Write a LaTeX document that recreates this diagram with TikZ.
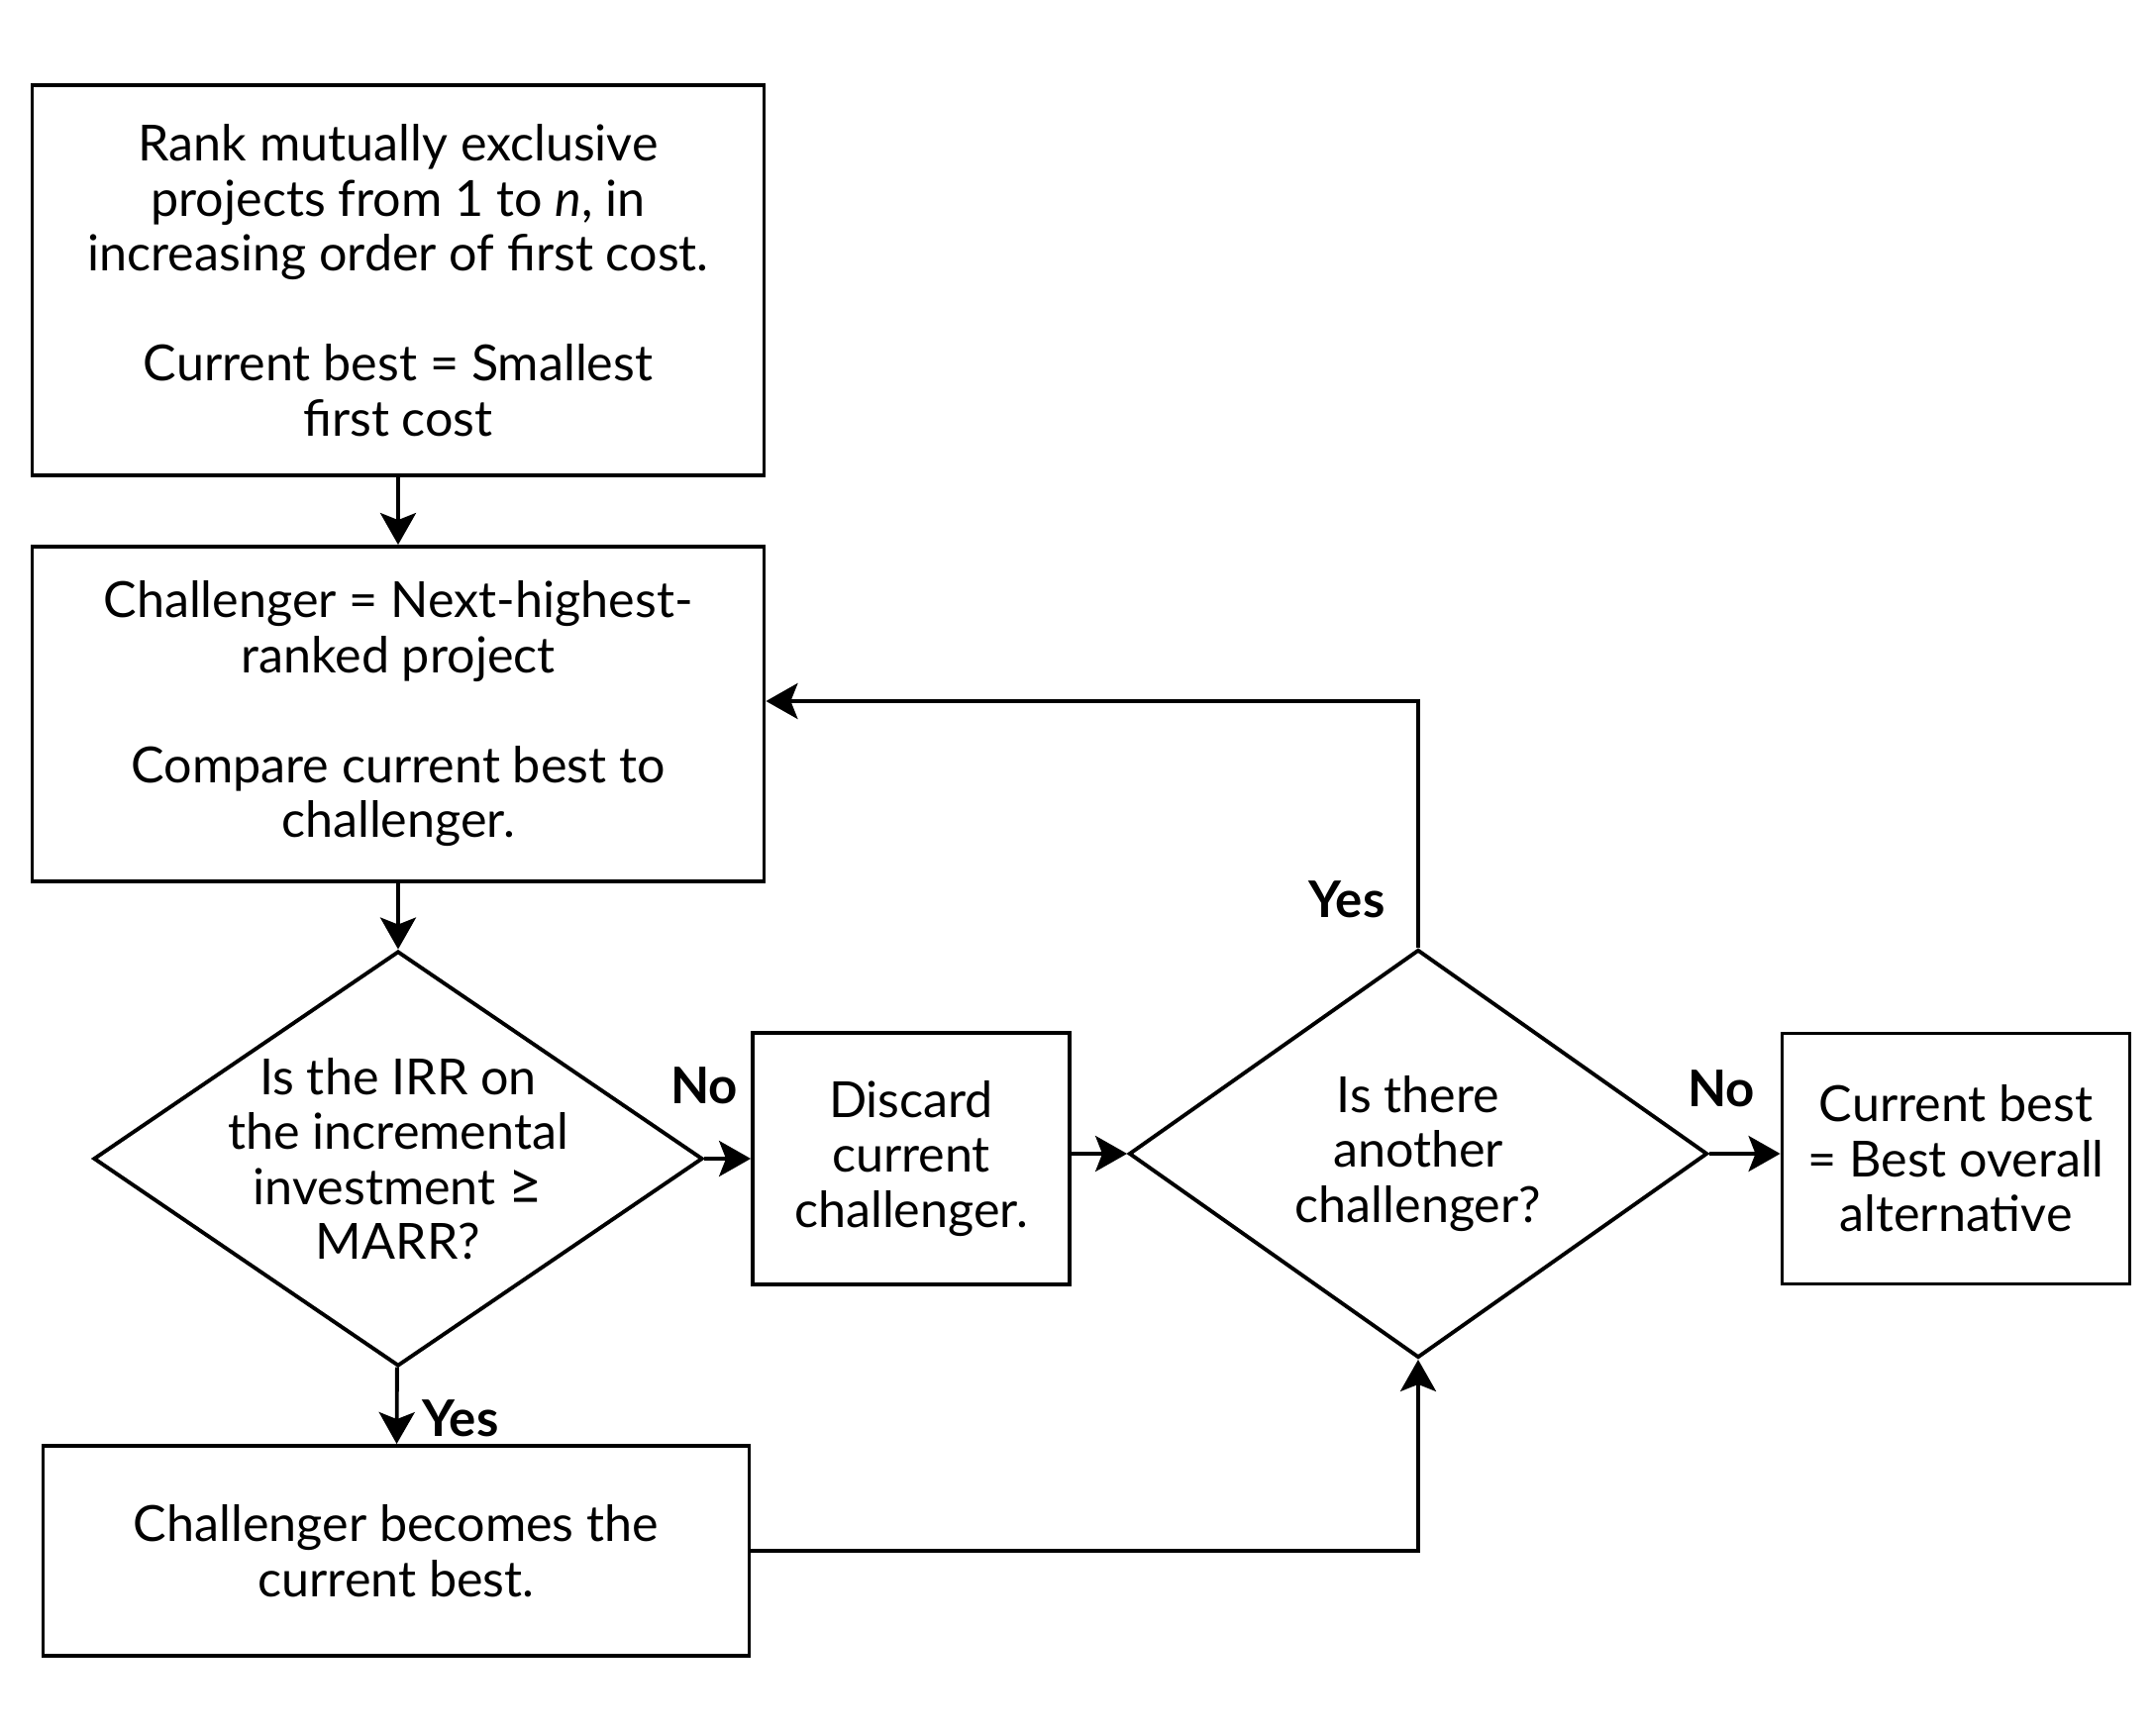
\documentclass[tikz,border=0pt]{standalone}
\usepackage{fontspec}
\setmainfont{Lato}
\usetikzlibrary{shapes.geometric,arrows.meta}

\begin{document}
\begin{tikzpicture}[
  line width=1.1pt,
  txt/.style={font=\fontsize{14.3}{15.8}\selectfont},
  box/.style={draw, rectangle, align=center, inner sep=0pt, txt},
  decide/.style={draw, diamond, align=center, inner sep=-0.5cm, txt},
  lbl/.style={font=\fontsize{14.5}{15.8}\selectfont\bfseries},
  conn/.style={-{Stealth[length=0.32cm, width=0.36cm, inset=0.07cm]}},
]
  \useasboundingbox (0,0) rectangle (21.76,-17.53);
  % left column
  \node[box, minimum width=7.39cm, minimum height=3.94cm] (rank) at (4.02,-2.83)
    {Rank mutually exclusive\\ projects from 1 to \textit{n}, in\\ increasing order of first cost.\\[15.8pt]
     Current best = Smallest\\ first cost};
  \node[box, minimum width=7.39cm, minimum height=3.38cm] (chal) at (4.02,-7.21)
    {Challenger = Next-highest-\\ ranked project\\[15.8pt] Compare current best to\\ challenger.};
  \node[decide, minimum width=6.15cm, minimum height=4.19cm] (irr) at (4.02,-11.7)
    {Is the IRR on\\ the incremental\\ investment {\fontsize{17}{15.8}\selectfont ≥}\\ MARR?};
  \node[box, minimum width=7.13cm, minimum height=2.12cm] (become) at (4.0,-15.66)
    {Challenger becomes the\\ current best.};
  % middle row
  \node[box, minimum width=3.2cm, minimum height=2.54cm] (discard) at (9.2,-11.7)
    {Discard\\ current\\ challenger.};
  \node[decide, minimum width=5.84cm, minimum height=4.12cm] (another) at (14.32,-11.65)
    {Is there\\ another\\ challenger?};
  \node[box, minimum width=3.51cm, minimum height=2.53cm] (final) at (19.75,-11.7)
    {Current best\\ = Best overall\\ alternative};
  % labels
  \node[lbl] (noA) at (7.11,-10.96) {No};
  \node[lbl] (yesA) at (4.65,-14.32) {Yes};
  \node[lbl] (yesB) at (13.6,-9.08) {Yes};
  \node[lbl] (noB) at (17.38,-10.99) {No};
  % connectors
  \coordinate (back) at ([yshift=0.13cm]chal.east);
  \draw[conn] (rank) -- (chal);
  \draw[conn] (chal) -- (irr);
  \draw[conn] (irr) -- (discard);
  \draw[conn] (discard.east |- another.west) -- (another.west);
  \draw[conn] (another.east) -- (another.east -| final.west);
  \draw[conn] (irr) -- (become);
  \draw[conn] (become) -| (another);
  \draw[conn] (another) |- (back);
\end{tikzpicture}
\end{document}
